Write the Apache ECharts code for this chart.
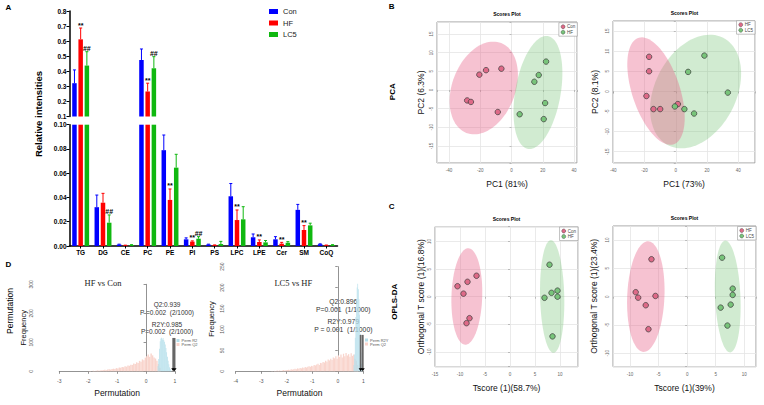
<!DOCTYPE html>
<html><head><meta charset="utf-8">
<script src="https://cdn.jsdelivr.net/npm/echarts@6/dist/echarts.min.js"></script>
<style>html,body{margin:0;padding:0;background:#fff}#c{width:764px;height:405px}</style>
</head><body><div id="c"></div>
<script>
const F = '"Liberation Sans", Arial, sans-serif';
const SERIF = '"Liberation Serif", "Times New Roman", serif';

// ---------- Panel A : lipid classes ----------
const lipidClasses = ['TG','DG','CE','PC','PE','PI','PS','LPC','LPE','Cer','SM','CoQ'];
const conMean = [0.321,0.032,0.0012,0.475,0.079,0.0055,0.0012,0.041,0.0072,0.0055,0.0298,0.0015];
const conSEM  = [0.088,0.010,0.0003,0.073,0.0125,0.0012,0.0003,0.0105,0.0027,0.0022,0.0045,0.0003];
const hfMean  = [0.612,0.0357,0.0005,0.266,0.038,0.0036,0.0007,0.0214,0.0033,0.0019,0.0132,0.0006];
const hfSEM   = [0.075,0.0077,0.0002,0.055,0.009,0.0006,0.0002,0.0083,0.0017,0.0011,0.0036,0.0002];
const lc5Mean = [0.438,0.0192,0.0008,0.420,0.0646,0.0060,0.0016,0.0220,0.0030,0.0027,0.0170,0.0008];
const lc5SEM  = [0.092,0.0064,0.0003,0.077,0.011,0.0017,0.0022,0.0104,0.0015,0.0009,0.0018,0.0003];
const hfSig   = ['**','','','**','**','**','','**','**','**','**',''];
const lc5Sig  = ['##','##','','##','','##','','','','','',''];
const upperRange = [0.1, 0.8];   // upper (broken) segment of the y axis
const lowerRange = [0, 0.1];     // lower segment of the y axis

// ---------- Panel B : PCA scores ----------
const pca1ConX = [-20.6,-16.3,-6.5,-28.4,-26.0,-8.8];
const pca1ConY = [4.1,5.3,5.7,-2.8,-3.2,-5.9];
const pca1HfX  = [22.1,17.4,14.6,21.5,5.2,20.6];
const pca1HfY  = [7.6,4.0,2.2,-3.5,-6.5,-7.8];
const pca2HfX  = [-17.1,-17.1,-18.8,-14.3,-10.0,1.3];
const pca2HfY  = [8.6,5.0,-1.15,-4.4,-4.4,-3.15];
const pca2Lc5X = [18.3,7.9,33.3,-0.6,5.5,11.7];
const pca2Lc5Y = [8.9,4.85,-0.3,-3.75,-4.4,-5.5];

// ---------- Panel C : OPLS-DA scores ----------
const opls1ConX = [-10.5,-9.3,-8.5,-6.7,-8.1,-8.7];
const opls1ConY = [1.9,0.55,2.7,3.8,-3.9,-4.8];
const opls1HfX  = [7.9,8.3,9.5,6.9,9.5,8.5];
const opls1HfY  = [5.8,0.7,1.1,-0.2,0.0,-7.2];
const opls2HfX  = [-6.24,-9.0,-8.57,-5.54,-7.24,-6.77];
const opls2HfY  = [6.6,0.78,-0.18,0.12,-1.52,-5.75];
const opls2Lc5X = [6.12,7.97,7.97,5.87,7.62,7.05];
const opls2Lc5Y = [6.88,1.41,0.3,-1.94,-1.41,-5.11];

// ---------- Panel D : permutation histograms ----------
const dLeftQ2Start = -2.0, dLeftQ2Width = 0.05;
const dLeftQ2Counts = [1,1,0,2,1,2,3,2,3,4, 4,5,4,6,7,6,8,9,8,11, 10,13,12,15,14,17,16,20,19,23, 22,27,25,31,29,36,33,41,38,47, 52,58,50,61,55,48,44,36,25,12];
const dLeftR2Start = 0.40, dLeftR2Width = 0.025;
const dLeftR2Counts = [18,42,78,104,113,116,110,115,108,102,92,80,66,50,36,24,14,7,3];
const dLeftObserved = [0.939, 0.985];
const dLeftArrowTop = 115;
const dLeftNotes = ['Q2:0.939','P =0.002  (2/1000)','R2Y:0.985','P=0.002  (2/1000)'];

const dRightQ2Start = -2.6, dRightQ2Width = 0.05;
const dRightQ2Counts = [1,0,1,1,2,1,2,1,2,3, 2,3,3,4,3,5,4,5,6,5, 7,6,8,7,9,8,10,9,11,12, 11,13,12,15,14,16,18,15,20,19, 22,21,25,23,28,26,30,27,33,31, 36,30,38,34,40,33,42,36,44,38, 41,35,43,37,40,30,25,15];
const dRightR2Start = 0.62, dRightR2Width = 0.025;
const dRightR2Counts = [15,40,80,130,170,200,209,196,172,135,90,45,18,6];
const dRightObserved = [0.896, 0.979];
const dRightArrowTop = 87;
const dRightNotes = ['Q2:0.896','P=0.001  (1/1000)','R2Y:0.979','P = 0.001  (1/1000)'];

// ---------- styling ----------
const BLUE = '#0000FF', RED = '#FF0000', GREEN = '#10B810';
const PINK_PT = '#de6a88', GREEN_PT = '#78c47a';
const PINK_EL = 'rgba(232,95,135,0.38)', GREEN_EL = 'rgba(120,195,120,0.34)';
const HIST_BLUE = '#b5dfeb', HIST_PINK = '#f9d5cd';
const BAR_PITCH = 6.2;

const groups = [
  {mean: conMean, sem: conSEM, color: BLUE, sig: null},
  {mean: hfMean, sem: hfSEM, color: RED, sig: hfSig},
  {mean: lc5Mean, sem: lc5SEM, color: GREEN, sig: lc5Sig}
];

function confEllipse(xs, ys) {
  const n = xs.length;
  const mx = xs.reduce((a,b)=>a+b,0)/n, my = ys.reduce((a,b)=>a+b,0)/n;
  let sxx=0, syy=0, sxy=0;
  for (let i=0;i<n;i++){const dx=xs[i]-mx, dy=ys[i]-my; sxx+=dx*dx; syy+=dy*dy; sxy+=dx*dy;}
  sxx/=(n-1); syy/=(n-1); sxy/=(n-1);
  const tr = sxx+syy, det = sxx*syy-sxy*sxy;
  const disc = Math.sqrt(Math.max(tr*tr/4-det,0));
  const l1 = tr/2+disc, l2 = tr/2-disc;
  const th = 0.5*Math.atan2(2*sxy, sxx-syy);
  const k = Math.sqrt(5.991); // 95% chi-square, 2 df
  const pts = [];
  for (let j=0;j<96;j++){
    const t = j/96*2*Math.PI;
    const a = k*Math.sqrt(l1)*Math.cos(t), b = k*Math.sqrt(Math.max(l2,0))*Math.sin(t);
    pts.push([mx + a*Math.cos(th) - b*Math.sin(th), my + a*Math.sin(th) + b*Math.cos(th)]);
  }
  return {cx: mx, cy: my, pts};
}

function isMult(v, step){ return Math.abs(v/step - Math.round(v/step)) < 1e-6; }

function scatterXAxis(gi, min, max, step, name, gap) {
  return {gridIndex: gi, type:'value', min, max, minInterval: step, maxInterval: step,
    name, nameLocation:'middle', nameGap: gap, nameTextStyle:{fontSize:8.5, color:'#111', fontFamily:F},
    axisLine:{show:false}, axisTick:{show:true, length:2, lineStyle:{color:'#999', width:0.6}},
    axisLabel:{fontSize:4.5, color:'#666', margin:5, fontFamily:F, formatter: v => isMult(v, step) ? String(Math.round(v)) : ''},
    splitLine:{show:true, lineStyle:{color:'#e4e4e4', width:0.8}}};
}
function scatterYAxis(gi, min, max, step, name, gap) {
  return {gridIndex: gi, type:'value', min, max, minInterval: step, maxInterval: step,
    name, nameLocation:'middle', nameGap: gap, nameRotate:90, nameTextStyle:{fontSize:8.5, color:'#111', fontFamily:F},
    axisLine:{show:false}, axisTick:{show:true, length:2, lineStyle:{color:'#999', width:0.6}},
    axisLabel:{fontSize:4.5, color:'#666', margin:3, rotate:90, fontFamily:F, formatter: v => isMult(v, step) ? String(Math.round(v)) : ''},
    splitLine:{show:true, lineStyle:{color:'#e4e4e4', width:0.8}}};
}
function histXAxis(gi, min, max, name) {
  return {gridIndex: gi, type:'value', min, max, interval:1, offset:4.4,
    name, nameLocation:'middle', nameGap:13, nameTextStyle:{fontSize:8.5, color:'#111', fontFamily:F},
    axisLine:{show:true, lineStyle:{color:'#777', width:0.8}}, axisTick:{show:true, length:2.5, lineStyle:{color:'#777', width:0.8}},
    axisLabel:{fontSize:5, color:'#555', margin:3, fontFamily:F}, splitLine:{show:false}};
}
function histYAxis(gi, max, step, offset, gap) {
  return {gridIndex: gi, type:'value', min:0, max, interval:step, offset,
    name:'Frequency', nameLocation:'middle', nameGap:gap, nameRotate:90, nameTextStyle:{fontSize:7.5, color:'#111', fontFamily:F},
    axisLine:{show:true, lineStyle:{color:'#777', width:0.8}}, axisTick:{show:true, length:2.5, lineStyle:{color:'#777', width:0.8}},
    axisLabel:{fontSize:5, color:'#555', margin:2, rotate:90, fontFamily:F}, splitLine:{show:false}};
}

function barSeries(gi, name, data, color) {
  return {type:'bar', name, xAxisIndex:gi, yAxisIndex:gi, data, barWidth:4.5, barGap:'38%', clip:true,
    itemStyle:{color}, silent:true, z:2};
}
function errSeries(gi, range) {
  const lo = range[0], hi = range[1];
  return {type:'custom', xAxisIndex:gi, yAxisIndex:gi, clip:true, silent:true, z:3,
    data: lipidClasses.map((c,i)=>[i]),
    renderItem: (params, api) => {
      const i = params.dataIndex; const children = [];
      groups.forEach((g, gIdx) => {
        const m = g.mean[i], top = g.mean[i]+g.sem[i];
        if (m > hi || top < lo) return;
        const dx = (gIdx-1)*BAR_PITCH;
        const p0 = api.coord([i, Math.max(m, lo)]), p1 = api.coord([i, Math.min(top, hi)]);
        const x = p0[0]+dx;
        children.push({type:'line', shape:{x1:x, y1:p0[1], x2:x, y2:p1[1]}, style:{stroke:g.color, lineWidth:1}});
        if (top <= hi) {
          children.push({type:'line', shape:{x1:x-1.5, y1:p1[1], x2:x+1.5, y2:p1[1]}, style:{stroke:g.color, lineWidth:1}});
          const s = g.sig && g.sig[i];
          if (s) children.push({type:'text', style:{text:s, x:x, y:p1[1]+0.5, textAlign:'center', align:'center',
            textVerticalAlign:'bottom', verticalAlign:'bottom', font:'bold 7px '+F, fill:'#000'}});
        }
      });
      return {type:'group', children};
    }};
}
function ellipseSeries(gi, xs, ys, color) {
  const e = confEllipse(xs, ys);
  return {type:'custom', xAxisIndex:gi, yAxisIndex:gi, clip:true, silent:true, z:1, data:[[e.cx, e.cy]],
    renderItem: (p, api) => ({type:'polygon', shape:{points: e.pts.map(q => api.coord(q))}, style:{fill: color}})};
}
function pointSeries(gi, name, xs, ys, color) {
  return {type:'scatter', name, xAxisIndex:gi, yAxisIndex:gi, z:4, silent:true,
    data: xs.map((x,i)=>[x, ys[i]]), symbol:'circle', symbolSize:5.5,
    itemStyle:{color, borderColor:'#3a3a3a', borderWidth:0.7, opacity:1}};
}
function histSeries(gi, name, start, width, counts, color) {
  return {type:'custom', name, xAxisIndex:gi, yAxisIndex:gi, silent:true, z:2, itemStyle:{color},
    data: counts.map((c,i)=>[start + i*width, c]),
    renderItem: (p, api) => {
      const a = api.coord([api.value(0), api.value(1)]), b = api.coord([api.value(0)+width, 0]);
      return {type:'rect', shape:{x:a[0], y:a[1], width:Math.max(b[0]-a[0],0.5), height:b[1]-a[1]}, style:{fill:color}};
    }};
}
function arrowSeries(gi, obs, top) {
  return {type:'custom', xAxisIndex:gi, yAxisIndex:gi, silent:true, z:5,
    data: obs.map(v=>[v, top]),
    renderItem: (p, api) => {
      const a = api.coord([api.value(0), api.value(1)]), b = api.coord([api.value(0), 0]);
      return {type:'group', children:[
        {type:'line', shape:{x1:a[0], y1:a[1], x2:b[0], y2:b[1]-2}, style:{stroke:'#666', lineWidth:1.8}},
        {type:'polygon', shape:{points:[[b[0]-2,b[1]-3],[b[0]+2,b[1]-3],[b[0],b[1]]]}, style:{fill:'#000'}}
      ]};
    }};
}
function scatterLegend(right, top, names, colors) {
  return {orient:'vertical', right, top, padding:[1.5,2,1.5,2], itemGap:0.5, itemWidth:4, itemHeight:4,
    borderColor:'#999', borderWidth:0.6, backgroundColor:'#fff', selectedMode:false,
    textStyle:{fontSize:4.5, color:'#444', fontFamily:F, padding:[0,0,0,-3]},
    data: names.map((n,i)=>({name:n, icon:'circle', itemStyle:{color:colors[i], borderColor:'#3a3a3a', borderWidth:0.4}}))};
}
function histLegend(left, top, names, colors) {
  return {orient:'vertical', left, top, padding:0, itemGap:0, itemWidth:3, itemHeight:3, selectedMode:false,
    textStyle:{fontSize:4, color:'#555', fontFamily:F, padding:[0,0,0,-3]},
    data: names.map((n,i)=>({name:n, icon:'rect', itemStyle:{color:colors[i]}}))};
}
function txt(text, x, y, font, rot, fill, align) {
  return {type:'text', x, y, rotation: rot||0, silent:true,
    style:{text, font, fill: fill||'#000', textAlign: align||'center', align: align||'center', textVerticalAlign:'middle', verticalAlign:'middle'}};
}

const R90 = Math.PI/2;
const graphics = [
  txt('A', 8.3, 7, 'bold 8px '+F), txt('B', 391.7, 6.5, 'bold 8px '+F),
  txt('C', 391.7, 206, 'bold 8px '+F), txt('D', 8.3, 264.3, 'bold 8px '+F),
  txt('Relative intensities', 38.5, 114, 'bold 9.5px '+F, R90),
  txt('PCA', 392.7, 91.7, 'bold 8px '+F, R90),
  txt('OPLS-DA', 394, 301.7, 'bold 8px '+F, R90),
  txt('Scores Plot', 507, 14, 'bold 5px '+F), txt('Scores Plot', 684.5, 13, 'bold 5px '+F),
  txt('Scores Plot', 506.5, 219, 'bold 5px '+F), txt('Scores Plot', 684.5, 218.3, 'bold 5px '+F),
  txt('HF vs Con', 103, 283.3, '8.5px '+SERIF, 0, '#222'), txt('LC5 vs HF', 293.3, 283.3, '8.5px '+SERIF, 0, '#222'),
  txt('Permutation', 10, 311, '8.5px '+F, R90)
];
const dLeftNoteY = [304.3, 312.3, 324.3, 331.7], dRightNoteY = [301.7, 309.3, 321, 329];
dLeftNotes.forEach((t,i)=>graphics.push(txt(t, 167, dLeftNoteY[i], '6.5px '+F, 0, '#333')));
dRightNotes.forEach((t,i)=>graphics.push(txt(t, 343.3, dRightNoteY[i], '6.8px '+F, 0, '#333')));

const option = {
  animation:false, backgroundColor:'#fff',
  textStyle:{fontFamily:F},
  legend:[
    {orient:'vertical', left:269, top:7.5, itemWidth:9, itemHeight:5, itemGap:3.5, selectedMode:false, padding:0,
     textStyle:{fontSize:7.5, color:'#222', fontFamily:F},
     data:[{name:'Con', icon:'rect', itemStyle:{color:BLUE}}, {name:'HF', icon:'rect', itemStyle:{color:RED}}, {name:'LC5', icon:'rect', itemStyle:{color:GREEN}}]},
    scatterLegend(764-577.3, 22.7, ['Con','HF'], [PINK_PT, GREEN_PT]),
    scatterLegend(764-755, 20.7, ['HF','LC5'], [PINK_PT, GREEN_PT]),
    scatterLegend(764-578, 227, ['Con','HF'], [PINK_PT, GREEN_PT]),
    scatterLegend(764-756, 226.5, ['HF','LC5'], [PINK_PT, GREEN_PT]),
    histLegend(176.5, 338.5, ['Perm R2','Perm Q2'], [HIST_BLUE, HIST_PINK]),
    histLegend(365, 338, ['Perm R2Y','Perm Q2'], [HIST_BLUE, HIST_PINK])
  ],
  grid:[
    {left:69.5, top:11, width:268, height:105.5},
    {left:69.5, top:124.7, width:268, height:121.3},
    {left:437, top:22, width:140, height:141, show:true, borderColor:'#9a9a9a', borderWidth:1},
    {left:613, top:21, width:142, height:142, show:true, borderColor:'#9a9a9a', borderWidth:1},
    {left:435, top:226.7, width:143, height:140, show:true, borderColor:'#9a9a9a', borderWidth:1},
    {left:613, top:226, width:143, height:140.7, show:true, borderColor:'#9a9a9a', borderWidth:1},
    {left:59.3, top:284.3, width:115.7, height:87},
    {left:235.7, top:266.7, width:127.6, height:104.6}
  ],
  xAxis:[
    {gridIndex:0, type:'category', data:lipidClasses, show:false},
    {gridIndex:1, type:'category', data:lipidClasses,
     axisLine:{lineStyle:{color:'#000', width:1.5}}, axisTick:{show:true, alignWithLabel:true, length:2.5, lineStyle:{color:'#000', width:1}},
     axisLabel:{fontSize:6.5, fontWeight:'bold', color:'#000', margin:3, fontFamily:F, interval:0}},
    scatterXAxis(2, -47.7, 41.9, 20, 'PC1 (81%)', 16),
    scatterXAxis(3, -40.2, 50.7, 20, 'PC1 (73%)', 16),
    scatterXAxis(4, -15, 13.6, 5, 'Tscore (1)(58.7%)', 16.5),
    scatterXAxis(5, -12.97, 12.05, 5, 'Tscore (1)(39%)', 16.5),
    histXAxis(6, -3, 1, 'Permutation'),
    histXAxis(7, -4, 1, 'Permutation')
  ],
  yAxis:[
    {gridIndex:0, type:'value', min:upperRange[0], max:upperRange[1], interval:0.1,
     axisLine:{show:true, lineStyle:{color:'#000', width:1.5}}, axisTick:{show:true, length:3, lineStyle:{color:'#000', width:1}},
     axisLabel:{fontSize:6.5, fontWeight:'bold', color:'#000', margin:3, fontFamily:F, formatter:v=>v.toFixed(1)}, splitLine:{show:false}},
    {gridIndex:1, type:'value', min:lowerRange[0], max:lowerRange[1], interval:0.02,
     axisLine:{show:true, lineStyle:{color:'#000', width:1.5}}, axisTick:{show:true, length:3, lineStyle:{color:'#000', width:1}},
     axisLabel:{fontSize:6.5, fontWeight:'bold', color:'#000', margin:3, fontFamily:F, formatter:v=>v.toFixed(2)}, splitLine:{show:false}},
    scatterYAxis(2, -19.55, 18.2, 5, 'PC2 (6.3%)', 12),
    scatterYAxis(3, -17.8, 17.5, 5, 'PC2 (8.1%)', 14),
    scatterYAxis(4, -12.7, 12.7, 5, 'Orthogonal T score (1)(16.8%)', 9.5),
    scatterYAxis(5, -12.37, 12.47, 5, 'Orthogonal T score (1)(23.4%)', 15),
    histYAxis(6, 300, 100, 24.3, 7.5),
    histYAxis(7, 250, 50, 9.7, 11)
  ],
  series:[
    barSeries(0,'Con',conMean,BLUE), barSeries(0,'HF',hfMean,RED), barSeries(0,'LC5',lc5Mean,GREEN),
    barSeries(1,'Con',conMean,BLUE), barSeries(1,'HF',hfMean,RED), barSeries(1,'LC5',lc5Mean,GREEN),
    errSeries(0, upperRange), errSeries(1, lowerRange),
    ellipseSeries(2, pca1ConX, pca1ConY, PINK_EL), ellipseSeries(2, pca1HfX, pca1HfY, GREEN_EL),
    pointSeries(2,'Con',pca1ConX,pca1ConY,PINK_PT), pointSeries(2,'HF',pca1HfX,pca1HfY,GREEN_PT),
    ellipseSeries(3, pca2Lc5X, pca2Lc5Y, GREEN_EL), ellipseSeries(3, pca2HfX, pca2HfY, PINK_EL),
    pointSeries(3,'HF',pca2HfX,pca2HfY,PINK_PT), pointSeries(3,'LC5',pca2Lc5X,pca2Lc5Y,GREEN_PT),
    ellipseSeries(4, opls1ConX, opls1ConY, PINK_EL), ellipseSeries(4, opls1HfX, opls1HfY, GREEN_EL),
    pointSeries(4,'Con',opls1ConX,opls1ConY,PINK_PT), pointSeries(4,'HF',opls1HfX,opls1HfY,GREEN_PT),
    ellipseSeries(5, opls2HfX, opls2HfY, PINK_EL), ellipseSeries(5, opls2Lc5X, opls2Lc5Y, GREEN_EL),
    pointSeries(5,'HF',opls2HfX,opls2HfY,PINK_PT), pointSeries(5,'LC5',opls2Lc5X,opls2Lc5Y,GREEN_PT),
    histSeries(6,'Perm Q2',dLeftQ2Start,dLeftQ2Width,dLeftQ2Counts,HIST_PINK),
    histSeries(6,'Perm R2',dLeftR2Start,dLeftR2Width,dLeftR2Counts,HIST_BLUE),
    arrowSeries(6, dLeftObserved, dLeftArrowTop),
    histSeries(7,'Perm Q2',dRightQ2Start,dRightQ2Width,dRightQ2Counts,HIST_PINK),
    histSeries(7,'Perm R2Y',dRightR2Start,dRightR2Width,dRightR2Counts,HIST_BLUE),
    arrowSeries(7, dRightObserved, dRightArrowTop)
  ],
  graphic: graphics
};
const chart = echarts.init(document.getElementById('c'), null, {renderer:'svg', width:764, height:405});
chart.setOption(option);
</script></body></html>
